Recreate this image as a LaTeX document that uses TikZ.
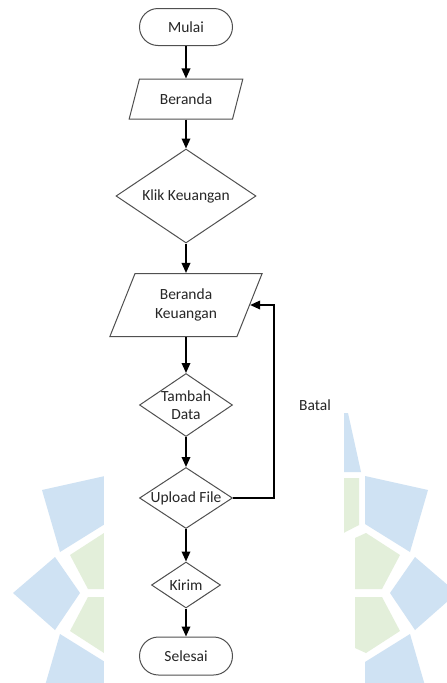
\documentclass[tikz,border=0pt]{standalone}
\usepackage{fontspec}
\setmainfont{Carlito}
\usetikzlibrary{shapes.geometric,shapes.misc,arrows.meta}

\definecolor{wmblue}{RGB}{207,226,243}
\definecolor{wmgreen}{RGB}{227,239,218}
\definecolor{edgegray}{RGB}{80,80,80}

% one half of the faint logo in the background (left side)
\newcommand\wmhalf{%
  \fill[wmblue] (42,490) -- (105,476) -- (105,524) -- (60,552) -- cycle;
  \fill[wmblue] (13,593) -- (55,557) -- (80,593) -- (55,630) -- cycle;
  \fill[wmblue] (42,696) -- (105,710) -- (105,662) -- (60,634) -- cycle;
  \fill[wmgreen] (70,555) -- (104,533) -- (115,538) -- (115,589) -- (88,589) -- cycle;
  \fill[wmgreen] (70,631) -- (104,653) -- (115,648) -- (115,597) -- (88,597) -- cycle;
}

\begin{document}
\begin{tikzpicture}[x=1pt,y=-1pt,
  txt/.style={font=\fontsize{15.5}{18.5}\selectfont, text=black!85, align=center, inner sep=0pt},
  term/.style={txt, rounded rectangle, draw=edgegray, line width=1pt, minimum width=93pt, minimum height=37pt},
  io/.style={txt, trapezium, trapezium stretches=true, draw=edgegray, line width=1pt},
  dia/.style={diamond, draw=edgegray, line width=1pt, inner sep=0pt},
  arr/.style={draw=black, line width=1.8pt, -{Triangle[length=10pt,width=8.5pt]}}]

\useasboundingbox (0,0) rectangle (447,683);
\fill[white] (0,0) rectangle (447,683);

% background logo
\wmhalf
\begin{scope}[shift={(470,0)}, xscale=-1]
  \wmhalf
\end{scope}
\fill[wmblue] (330,413) -- (348,413) -- (361,472) -- (330,472) -- cycle;
\fill[wmgreen] (330,478) -- (359,478) -- (359,525) -- (330,540) -- cycle;

% white panel of the flowchart
\fill[white] (104,0) rectangle (344,683);

% nodes
\node[term] (start) at (186,27) {Mulai};
\node[io, minimum width=114pt, minimum height=40pt,
      trapezium left angle=62, trapezium right angle=118] (home) at (186,99) {Beranda};
\node[dia, minimum width=140pt, minimum height=94pt] (klik) at (186,196) {};
\node[txt] (klikt) at (klik) {Klik Keuangan};
\node[io, minimum width=153pt, minimum height=63pt,
      trapezium left angle=64.5, trapezium right angle=115.5] (bk) at (186,305) {Beranda\\Keuangan};
\node[dia, minimum width=93pt, minimum height=63pt] (tambah) at (186,405) {};
\node[txt] (tambaht) at (tambah) {Tambah\\Data};
\node[dia, minimum width=93pt, minimum height=61pt] (upl) at (186,498) {};
\node[txt] (uplt) at (upl) {Upload File};
\node[dia, minimum width=69pt, minimum height=46pt] (kirim) at (186,585) {};
\node[txt] (kirimt) at (kirim) {Kirim};
\node[term, minimum height=38pt] (end) at (186,656) {Selesai};
\node[txt] (batal) at (315,405) {Batal};

% connectors
\draw[arr] (start.south) -- (start.south |- home.north);
\draw[arr] (home.center |- home.south) -- (home.center |- klik.north);
\draw[arr] (klik.south) -- (klik.south |- bk.north);
\draw[arr] (bk.center |- bk.south) -- (tambah.north);
\draw[arr] (tambah.south) -- (upl.north);
\draw[arr] (upl.south) -- (kirim.north);
\draw[arr] (kirim.south) -- (end.north);
\draw[arr] (upl.east) -- ++(41,0) |- (bk.right side);
\end{tikzpicture}
\end{document}
